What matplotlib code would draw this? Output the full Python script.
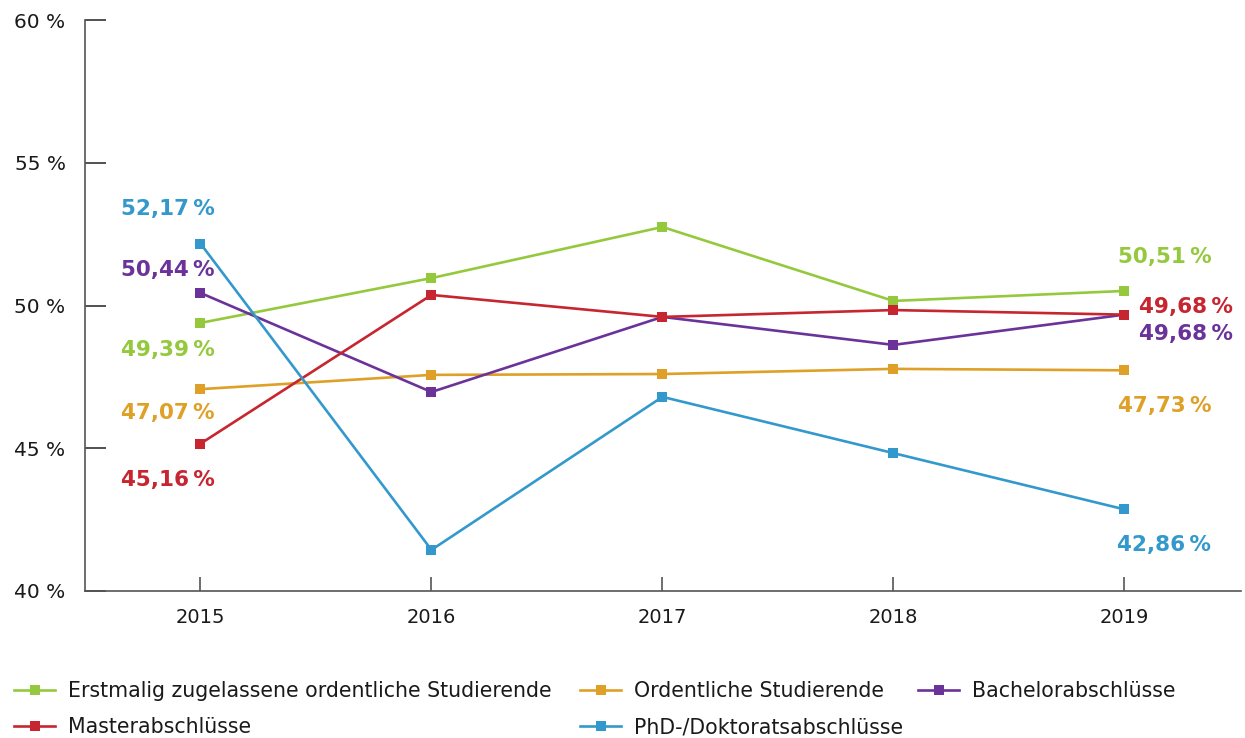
import matplotlib
matplotlib.use("Agg")
import matplotlib.pyplot as plt
from matplotlib.ticker import FuncFormatter

plt.rcParams['font.family'] = ['DejaVu Sans']

years = ["2015", "2016", "2017", "2018", "2019"]

erstmalig = [49.39, 50.96, 52.75, 50.16, 50.51]
ordentliche = [47.07, 47.57, 47.60, 47.78, 47.73]
bachelor = [50.44, 46.97, 49.60, 48.62, 49.68]
master = [45.16, 50.37, 49.60, 49.84, 49.68]
phd = [52.17, 41.44, 46.80, 44.83, 42.86]

series_names = [
    "Erstmalig zugelassene ordentliche Studierende",
    "Ordentliche Studierende",
    "Bachelorabschlüsse",
    "Masterabschlüsse",
    "PhD-/Doktoratsabschlüsse",
]
colors = ["#95C93D", "#DFA028", "#6B3399", "#C7252F", "#3399CC"]
series = [erstmalig, ordentliche, bachelor, master, phd]

# label offsets (pixels) for first and last points
first_offsets = [(-33, -27), (-33, -24), (-33, 23), (-33, -36), (-33, 35)]
last_offsets = [(40, 34), (40, -36), (62, -19), (62, 8), (40, -36)]


def fmt_pct(v):
    return f"{v:.2f}".replace(".", ",") + "\u2009%"


fig = plt.figure(figsize=(12.45, 7.38), dpi=100)
ax = fig.add_axes([85 / 1245, 1 - 591 / 738, (1241 - 85) / 1245, (591 - 20) / 738])

x = list(range(len(years)))
handles = []
for name, vals, col in zip(series_names, series, colors):
    h, = ax.plot(x, vals, color=col, lw=1.9, marker="s", ms=6.5,
                 markeredgewidth=0, label=name, solid_joinstyle="miter")
    handles.append(h)

for vals, col, fo, lo in zip(series, colors, first_offsets, last_offsets):
    ax.annotate(fmt_pct(vals[0]), (x[0], vals[0]), xytext=fo,
                textcoords="offset pixels", ha="center", va="center",
                color=col, fontsize=15.5, fontweight="bold")
    ax.annotate(fmt_pct(vals[-1]), (x[-1], vals[-1]), xytext=lo,
                textcoords="offset pixels", ha="center", va="center",
                color=col, fontsize=15.5, fontweight="bold")

ax.set_xlim(-0.5, 4.505)
ax.set_ylim(40, 60)
ax.set_xticks(x)
ax.set_xticklabels(years)
ax.set_yticks([40, 45, 50, 55, 60])
ax.yaxis.set_major_formatter(FuncFormatter(lambda v, p: f"{v:.0f} %"))

for s in ["top", "right"]:
    ax.spines[s].set_visible(False)
for s in ["left", "bottom"]:
    ax.spines[s].set_color("#555555")
    ax.spines[s].set_linewidth(1.2)

ax.tick_params(axis="y", direction="in", length=15, width=1.2, color="#333333",
               pad=14, labelsize=14.5, labelcolor="#1a1a1a")
ax.tick_params(axis="x", direction="in", length=10, width=1.2, color="#555555",
               pad=12, labelsize=14, labelcolor="#1a1a1a")

# legend: three columns placed explicitly
cols = [
    ([handles[0], handles[3]], 14),
    ([handles[1], handles[4]], 580),
    ([handles[2]], 918),
]
for hs, xpx in cols:
    leg = fig.legend(handles=hs, labels=[h.get_label() for h in hs],
                     loc="upper left", bbox_to_anchor=(xpx / 1245, 1 - 681 / 738),
                     frameon=False, fontsize=14.8, handlelength=2.0,
                     handletextpad=0.65, borderpad=0, borderaxespad=0,
                     labelspacing=0.78, labelcolor="#1a1a1a")

fig.savefig("out.png", dpi=100)
